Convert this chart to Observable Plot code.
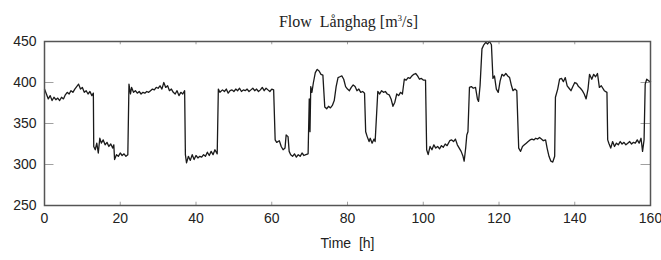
<!DOCTYPE html>
<html>
<head>
<meta charset="utf-8">
<script src="https://cdn.jsdelivr.net/npm/d3@7"></script>
<script src="https://cdn.jsdelivr.net/npm/@observablehq/plot@0.6"></script>
<style>
  html, body { margin: 0; padding: 0; background: #fff; }
  #title { height: 30px; line-height: 36px; font-family: "Liberation Serif", "DejaVu Serif", serif; font-size: 16px; color: #222; text-align: center; padding-left: 36px; width: 625px; }
</style>
</head>
<body>
<div id="title">Flow&nbsp; Långhag [m<sup style="font-size:9px">3</sup>/s]</div>
<div id="chart"></div>
<script>
const times = [0,0.5,1,1.5,2,2.5,3,3.5,4,4.5,5,5.5,6,6.5,7,7.5,8,8.5,9,9.5,10,10.5,11,11.5,12,12.5,12.9,13.0,13.4,13.8,14.2,14.6,15,15.5,16,16.5,17,17.5,18,18.3,18.5,19,19.5,20,20.5,21,21.5,22,22.3,22.7,23,23.5,24,24.5,25,25.5,26,26.5,27,27.5,28,28.5,29,29.5,30,30.5,31,31.5,32,32.5,33,33.5,34,34.5,35,35.5,36,36.5,37.0,37.2,37.5,38,38.5,39,39.5,40,40.5,41,41.5,42,42.5,43,43.5,44,44.5,45,45.6,45.9,46.3,47,47.5,48,48.5,49,49.5,50,50.5,51,51.5,52,52.5,53,53.5,54,54.5,55,55.5,56,56.5,57,57.5,58,58.5,59,59.5,60,60.5,60.9,61.3,62,62.5,63,63.5,63.8,64.3,64.6,65,65.5,66,66.5,67,67.5,68,68.5,69,69.6,69.9,70.1,70.3,70.6,71,71.5,72,72.5,73,73.5,74,74.5,75,75.5,76,76.5,77,77.5,78,78.5,79,79.5,80,80.5,81,81.5,82,82.5,83,83.5,84,84.5,84.8,85.2,85.7,86,86.5,87,87.3,88,88.5,89,89.5,90,90.5,91,91.5,92,92.5,93,93.5,94,94.5,95,95.5,96,96.5,97,97.5,98,98.5,99,99.5,100,100.6,100.9,101.3,101.8,102.3,102.8,103.3,103.8,104.3,104.8,105.3,105.8,106.3,107,107.5,108,108.5,109,109.5,110,110.5,110.8,111.2,111.5,111.8,112.2,112.7,113.2,113.8,114.3,114.6,115,115.5,116,116.5,117,117.5,118,118.4,118.8,119.3,119.8,120.3,120.8,121.3,121.8,122.3,122.8,123.3,123.7,124.2,124.7,125.2,125.7,126.2,126.7,127.2,127.7,128.2,128.7,129.2,129.7,130.2,130.7,131.2,131.7,132.3,132.7,133.2,133.7,134.2,134.7,134.9,135.5,136,136.5,137,137.5,138,138.5,139,139.5,140,140.5,141,141.5,142,142.5,143,143.5,143.9,144.5,145,145.5,146,146.5,147,147.8,148.5,148.7,149,149.5,150,150.5,151,151.5,152,152.5,153,153.5,154,154.5,155,155.5,156,156.5,157,157.5,157.9,158.3,158.6,159,159.5,160];
const flow = [392,386,380,384,378,382,379,381,378,382,380,385,388,386,390,388,392,395,398,392,394,388,390,386,389,384,387,322,318,326,314,332,326,330,324,327,322,325,320,324,306,312,310,314,311,313,310,312,398,386,394,388,390,387,389,386,388,387,389,388,390,392,391,394,393,396,392,400,394,396,390,392,388,386,390,384,388,386,390,312,302,310,305,312,306,311,308,310,309,312,310,315,311,316,312,318,313,392,388,391,389,392,387,390,391,389,392,390,393,389,391,390,392,389,391,393,390,392,389,391,394,390,393,391,389,392,391,330,327,329,322,318,320,336,334,316,312,310,313,309,312,310,314,311,312,313,380,340,395,388,400,412,416,414,410,409,370,368,371,369,372,378,395,406,407,408,404,395,392,390,394,397,395,390,392,388,389,387,340,334,328,332,326,331,328,389,386,390,388,389,386,385,380,371,376,386,384,388,386,404,403,406,405,408,410,411,408,404,405,403,403,318,312,322,318,324,320,322,319,323,321,325,323,329,330,328,331,324,320,316,310,304,320,336,340,394,395,393,394,380,377,396,441,446,449,447,450,446,405,408,392,388,402,410,408,411,408,406,396,390,392,390,320,316,322,324,326,328,330,331,330,332,331,333,331,329,330,320,310,304,303,310,382,392,404,405,401,406,396,393,390,395,400,399,395,393,390,386,380,392,410,404,410,407,411,394,396,390,388,330,326,320,328,322,326,324,328,325,327,324,326,328,325,327,326,330,326,332,316,330,398,404,402,401];
const xTicks = [0,20,40,60,80,100,120,140,160];
const yTicks = [250,300,350,400,450];

const data = times.map((t, i) => ({t, v: flow[i]}));

const chart = Plot.plot({
  width: 661,
  height: 230,
  marginLeft: 44,
  marginRight: 11,
  marginTop: 11,
  marginBottom: 55,
  style: {fontFamily: "'Liberation Sans', Arial, sans-serif", fontSize: "14px", color: "#222", background: "#fff"},
  x: {domain: [0, 160], ticks: xTicks},
  y: {domain: [250, 450], ticks: yTicks},
  marks: [
    Plot.ruleX(xTicks, {y1: 250, y2: 254, stroke: "#888", strokeWidth: 0.8}),
    Plot.ruleX(xTicks, {y1: 446, y2: 450, stroke: "#888", strokeWidth: 0.8}),
    Plot.ruleY(yTicks, {x1: 0, x2: 2.5, stroke: "#888", strokeWidth: 0.8}),
    Plot.ruleY(yTicks, {x1: 157.5, x2: 160, stroke: "#888", strokeWidth: 0.8}),
    Plot.line(data, {x: "t", y: "v", stroke: "#1a1a1a", strokeWidth: 1.3}),
    Plot.frame({stroke: "#555", strokeWidth: 1.5}),
    Plot.axisX({tickSize: 0, tickPadding: 8, fontSize: 14, label: "Time  [h]", labelAnchor: "center", labelArrow: "none", labelOffset: 42}),
    Plot.axisY({tickSize: 0, tickPadding: 8, fontSize: 14, label: null})
  ]
});
document.getElementById("chart").appendChild(chart);
</script>
</body>
</html>
